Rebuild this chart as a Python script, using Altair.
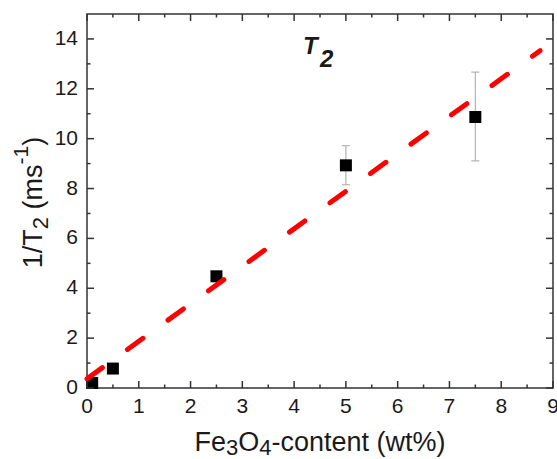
import altair as alt
import pandas as pd

# ---- data ----
content = [0.1, 0.5, 2.5, 5.0, 7.5]
rate = [0.2, 0.78, 4.48, 8.93, 10.87]
err_content = [5.0, 7.5]
err_low = [8.15, 9.11]
err_high = [9.72, 12.67]
fit_content = [0.0, 8.75]
fit_rate = [0.37, 13.53]
x_major = [0, 1, 2, 3, 4, 5, 6, 7, 8, 9]
x_minor = [0.5, 1.5, 2.5, 3.5, 4.5, 5.5, 6.5, 7.5, 8.5]
y_major = [0, 2, 4, 6, 8, 10, 12, 14]
y_minor = [1, 3, 5, 7, 9, 11, 13]

W, H = 466, 374
FONT = "Liberation Sans"
INK = "#333333"
TXT = "#1a1a1a"

xs = alt.Scale(domain=[0, 9], nice=False, zero=False)
ys = alt.Scale(domain=[0, 15], nice=False, zero=False)

pts = pd.DataFrame({"x": content, "y": rate})
errs = pd.DataFrame({"x": err_content, "lo": err_low, "hi": err_high})
fit = pd.DataFrame({"x": fit_content, "y": fit_rate})

points = alt.Chart(pts).mark_square(size=144, color="black", opacity=1).encode(
    x=alt.X("x:Q", scale=xs, axis=None),
    y=alt.Y("y:Q", scale=ys, axis=None),
)
err_rules = alt.Chart(errs).mark_rule(color="#b3b3b3", strokeWidth=1.2).encode(
    x=alt.X("x:Q", scale=xs, axis=None),
    y=alt.Y("lo:Q", scale=ys, axis=None),
    y2="hi:Q",
)
err_caps = alt.Chart(errs).transform_fold(["lo", "hi"], as_=["end", "val"]).mark_tick(
    orient="horizontal", size=8, thickness=1.2, color="#b3b3b3", opacity=1
).encode(
    x=alt.X("x:Q", scale=xs, axis=None),
    y=alt.Y("val:Q", scale=ys, axis=None),
)
fit_line = alt.Chart(fit).mark_line(
    color="#ff0000", strokeWidth=5, strokeDash=[19, 31], strokeCap="round"
).encode(
    x=alt.X("x:Q", scale=xs, axis=None),
    y=alt.Y("y:Q", scale=ys, axis=None),
)


def tick_layer(values, side, length):
    d = pd.DataFrame({"v": values})
    base = alt.Chart(d).mark_rule(color=INK, strokeWidth=1.5)
    if side in ("bottom", "top"):
        y0 = H if side == "bottom" else 0
        y1 = H - length if side == "bottom" else length
        return base.encode(x=alt.X("v:Q", scale=xs, axis=None),
                           y=alt.value(y0), y2=alt.value(y1))
    x0 = 0 if side == "left" else W
    x1 = length if side == "left" else W - length
    return base.encode(y=alt.Y("v:Q", scale=ys, axis=None),
                       x=alt.value(x0), x2=alt.value(x1))


ticks = []
for side in ("bottom", "top"):
    ticks.append(tick_layer(x_major, side, 7))
    ticks.append(tick_layer(x_minor, side, 3.5))
for side in ("left", "right"):
    ticks.append(tick_layer(y_major, side, 7))
    ticks.append(tick_layer(y_minor, side, 3.5))

# tick labels
xlab = pd.DataFrame({"v": x_major, "t": [str(v) for v in x_major]})
ylab = pd.DataFrame({"v": y_major, "t": [str(v) for v in y_major]})
x_labels = alt.Chart(xlab).mark_text(
    align="center", baseline="top", font=FONT, fontSize=21, color=TXT
).encode(x=alt.X("v:Q", scale=xs, axis=None), y=alt.value(H + 8), text="t:N")
y_labels = alt.Chart(ylab).mark_text(
    align="right", baseline="middle", font=FONT, fontSize=21, color=TXT
).encode(y=alt.Y("v:Q", scale=ys, axis=None), x=alt.value(-9), text="t:N")


def label(text, x, y, size, angle=0, weight="normal", style="normal"):
    return alt.Chart(pd.DataFrame({"t": [text]})).mark_text(
        align="left", baseline="alphabetic", font=FONT, fontSize=size,
        fontWeight=weight, fontStyle=style, angle=angle, color=TXT
    ).encode(x=alt.value(x), y=alt.value(y), text="t:N")


# Arial-metric advance widths (em units)
ADV = {"F": 0.611, "e": 0.556, "O": 0.778, "-": 0.333, "c": 0.5, "o": 0.556,
       "n": 0.556, "t": 0.278, " ": 0.278, "(": 0.333, "w": 0.722, "%": 0.889,
       ")": 0.333, "1": 0.556, "/": 0.278, "T": 0.611, "2": 0.556, "m": 0.833,
       "s": 0.5, "3": 0.556, "4": 0.556}


def width(s, size):
    return sum(ADV.get(ch, 0.556) for ch in s) * size


texts = []
# x-axis title: Fe3O4-content (wt%)
S, SS = 27, 22
xpieces = [("Fe", S, 0), ("3", SS, 3.5), ("O", S, 0), ("4", SS, 3.5), ("-content (wt%)", S, 0)]
total = sum(width(t, s) for t, s, _ in xpieces)
cx = W / 2 - total / 2
for t, s, dy in xpieces:
    texts.append(label(t, cx, 437 + dy, s))
    cx += width(t, s)

# y-axis title: 1/T2 (ms-1), rotated (leading space as a gap, SVG drops it)
S, SUB, SUP = 27, 22, 21
ypieces = [("1/T", S, 0, 0), ("2", SUB, 6.6, 0), ("(ms", S, 0, width(" ", S)),
           ("-1", SUP, -13.4, 0), (")", S, 0, 0)]
total = sum(width(t, s) + g for t, s, _, g in ypieces)
cy = 188.5 + total / 2
for t, s, dx, gap in ypieces:
    cy -= gap
    texts.append(label(t, -45.3 + dx, cy, s, angle=270))
    cy -= width(t, s)

# panel label T2
texts.append(label("T", 216, 39.5, 24, weight="bold", style="italic"))
texts.append(label("2", 233, 52.5, 24, weight="bold", style="italic"))

chart = alt.layer(
    err_rules, err_caps, points, fit_line, *ticks, x_labels, y_labels, *texts
).properties(
    width=W, height=H,
    padding={"left": 87, "top": 14, "right": 4, "bottom": 71},
    autosize=alt.AutoSizeParams(type="none"),
    background="white",
).configure_view(stroke=INK, strokeWidth=1.5)

chart.save("out.html", embed_options={"renderer": "svg", "actions": False})
